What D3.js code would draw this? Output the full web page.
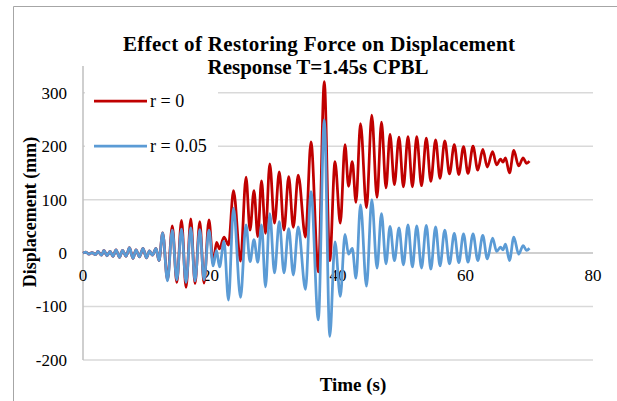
<!DOCTYPE html>
<html>
<head>
<meta charset="utf-8">
<script src="https://cdn.jsdelivr.net/npm/d3@7"></script>
<style>
  body { margin: 0; background: #fff; }
  svg text { font-family: "Liberation Serif", "Times New Roman", serif; fill: #000; }
</style>
</head>
<body>
<svg id="chart" width="617" height="401"></svg>
<script>
// time (s) of each read point (peaks / troughs)
var time = [0.00,0.47,0.94,1.41,1.96,2.35,2.90,3.29,3.76,4.24,4.71,5.18,5.73,6.20,6.75,7.29,7.84,8.31,8.86,9.41,
  9.96,10.43,10.90,11.45,11.92,12.50,13.25,14.01,14.71,15.45,16.16,16.91,17.57,18.32,18.98,19.76,20.42,20.94,21.41,22.12,
  22.82,23.61,24.71,25.57,26.20,26.82,27.42,28.00,28.63,29.30,30.04,30.79,31.53,32.27,32.99,33.76,34.90,35.76,36.91,37.85,
  38.71,39.53,40.36,41.10,41.65,42.24,42.82,43.53,44.47,45.30,46.12,46.82,47.53,48.16,48.85,49.57,50.26,50.98,51.67,52.35,
  53.10,53.85,54.56,55.31,56.00,56.75,57.49,58.24,58.95,59.69,60.39,61.18,61.93,62.71,63.42,64.25,64.88,65.49,65.88,66.27,
  66.90,67.58,68.33,69.05,69.57,70.04];

// r = 0
var dispR0 = [0,2,-2,1,-3,3,-4,5,-5,3,-6,6,-8,5,-6,10,-10,6,-7,9,
  -9,4,-4,9,-14,38,-50,51,-55,61,-64,64,-57,59,-56,62,-20,20,8,30,
  15,117,-15,142,43,117,31,135,37,167,56,152,43,143,48,146,30,208,-35,321,
  -14,171,56,203,125,171,95,242,85,258,104,245,122,222,128,217,124,218,124,218,
  126,215,134,212,140,210,148,203,147,199,149,200,155,194,161,190,165,176,170,178,
  150,192,163,178,168,172];

// r = 0.05
var dispR005 = [0,2,-2,1,-3,3,-4,5,-5,3,-6,6,-8,5,-6,10,-10,6,-7,9,
  -9,4,-4,9,-14,38,-52,43,-50,45,-55,47,-52,44,-50,43,-24,5,-26,22,
  -88,84,-83,53,-16,25,-17,53,-63,74,-37,59,-37,46,-41,49,-68,115,-125,249,
  -156,21,-81,35,-2,9,-47,90,-62,100,-28,74,-20,50,-14,47,-22,53,-26,51,
  -28,52,-30,49,-24,43,-20,37,-18,36,-17,36,-14,33,-11,28,3,11,6,17,
  -14,30,-2,14,5,9];

var xTicks = [0, 20, 40, 60, 80];
var yTicks = [-200, -100, 0, 100, 200, 300];
var seriesNames = ["r = 0", "r = 0.05"];
var seriesColors = ["#C00000", "#5B9BD5"];

var svg = d3.select("#chart");

// outer chart border (only left and top visible)
svg.append("path")
  .attr("d", "M13.5,401V6.5H617")
  .attr("fill", "none")
  .attr("stroke", "#A6A6A6")
  .attr("stroke-width", 1);

var x = d3.scaleLinear().domain([0, 80]).range([83, 593]);
var y = d3.scaleLinear().domain([-200, 350]).range([360, 66]);

// gridlines
svg.append("g").selectAll("line")
  .data(yTicks.filter(function(d) { return d != 0; }))
  .enter().append("line")
    .attr("x1", x(0)).attr("x2", x(80))
    .attr("y1", function(d) { return y(d); })
    .attr("y2", function(d) { return y(d); })
    .attr("stroke", "#D9D9D9")
    .attr("stroke-width", 1.5);

// y axis line
svg.append("line")
  .attr("x1", x(0)).attr("x2", x(0))
  .attr("y1", y(350)).attr("y2", y(-200))
  .attr("stroke", "#BFBFBF").attr("stroke-width", 1.5);

// x axis (at zero)
svg.append("line")
  .attr("x1", x(0)).attr("x2", x(80))
  .attr("y1", y(0)).attr("y2", y(0))
  .attr("stroke", "#BFBFBF").attr("stroke-width", 1.5);

// y tick labels
svg.append("g").selectAll("text")
  .data(yTicks)
  .enter().append("text")
    .attr("x", 67)
    .attr("y", function(d) { return y(d); })
    .attr("dy", "0.35em")
    .attr("text-anchor", "end")
    .attr("font-size", 17)
    .text(function(d) { return d; });

// x tick labels (sit just under the zero line)
svg.append("g").selectAll("text")
  .data(xTicks)
  .enter().append("text")
    .attr("x", function(d) { return x(d); })
    .attr("y", y(0) + 28)
    .attr("text-anchor", "middle")
    .attr("font-size", 17)
    .text(function(d) { return d; });

// series lines
var line = d3.line()
  .x(function(d) { return x(d[0]); })
  .y(function(d) { return y(d[1]); })
  .curve(d3.curveMonotoneX);

[dispR0, dispR005].forEach(function(vals, i) {
  svg.append("path")
    .datum(time.map(function(t, j) { return [t, vals[j]]; }))
    .attr("fill", "none")
    .attr("stroke", seriesColors[i])
    .attr("stroke-width", 2.75)
    .attr("stroke-linejoin", "round")
    .attr("d", line);
});

// legend (white box hides gridlines behind it)
var legend = svg.append("g");
legend.append("rect")
  .attr("x", 85).attr("y", 78).attr("width", 133).attr("height", 88)
  .attr("fill", "#fff");
seriesNames.forEach(function(name, i) {
  var ly = 101 + i * 45;
  legend.append("line")
    .attr("x1", 94).attr("x2", 147)
    .attr("y1", ly).attr("y2", ly)
    .attr("stroke", seriesColors[i])
    .attr("stroke-width", 2.75);
  legend.append("text")
    .attr("x", 150).attr("y", ly)
    .attr("dy", "0.35em")
    .attr("font-size", 18)
    .text(name);
});

// titles
svg.append("text")
  .attr("x", 319).attr("y", 51)
  .attr("text-anchor", "middle")
  .attr("font-size", 21).attr("font-weight", "bold")
  .attr("textLength", 392).attr("lengthAdjust", "spacing")
  .text("Effect of Restoring Force on Displacement");
svg.append("text")
  .attr("x", 318).attr("y", 74)
  .attr("text-anchor", "middle")
  .attr("font-size", 21).attr("font-weight", "bold")
  .text("Response T=1.45s CPBL");

svg.append("text")
  .attr("x", 353).attr("y", 391)
  .attr("text-anchor", "middle")
  .attr("font-size", 19).attr("font-weight", "bold")
  .text("Time (s)");

svg.append("text")
  .attr("transform", "translate(36,212) rotate(-90)")
  .attr("text-anchor", "middle")
  .attr("font-size", 18).attr("font-weight", "bold")
  .text("Displacement (mm)");
</script>
</body>
</html>
